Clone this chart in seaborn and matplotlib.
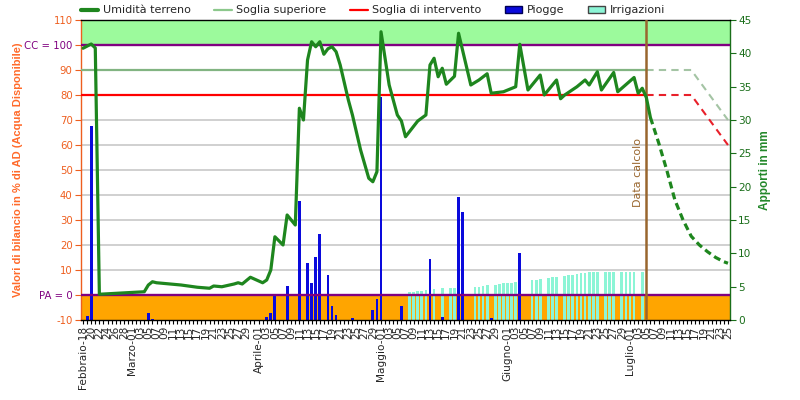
import matplotlib
matplotlib.use("Agg")
import matplotlib.pyplot as plt
import seaborn as sns
import pandas as pd
from matplotlib.patches import Rectangle, Patch
from matplotlib.lines import Line2D
from matplotlib.ticker import FixedLocator, MultipleLocator

# ---------------- data ----------------
start_date = "2024-02-18"
end_date = "2024-07-25"
month_names = {2: "Febbraio", 3: "Marzo", 4: "Aprile", 5: "Maggio", 6: "Giugno", 7: "Luglio"}

# soil moisture (% AD), day index from start_date
moist_day = [0, 2, 3, 4, 15, 16, 17, 18, 24, 28, 31, 32, 34, 37, 38, 39, 41, 44, 45, 46,
             47, 49, 50, 52, 53, 54, 55, 56, 57, 58, 59, 60, 61, 62, 63, 64, 65, 66, 68, 70,
             71, 72, 73, 75, 77, 78, 79, 82, 84, 85, 86, 87, 88, 89, 91, 92, 95, 97, 99, 100,
             103, 106, 107, 109, 112, 113, 116, 117, 118, 121, 123, 124, 126, 127, 130, 131,
             135, 136, 137, 138, 139]
moist_val = [98.7, 100.4, 98.8, 0.3, 1.3, 4.0, 5.3, 4.9, 4.0, 3.1, 2.7, 3.6, 3.3, 4.4, 4.9, 4.4,
             7.1, 4.9, 6.0, 10.0, 23.3, 20.0, 32.0, 28.0, 74.7, 70.0, 94.0, 101.3, 99.3, 101.3,
             96.3, 98.5, 99.3, 97.3, 92.0, 85.0, 78.0, 72.0, 58.0, 46.7, 45.3, 49.3, 105.3, 84.0,
             72.0, 69.6, 63.3, 69.6, 72.0, 92.0, 94.7, 87.3, 90.7, 84.3, 87.5, 104.7, 84.0, 86.0,
             88.5, 80.7, 81.3, 83.3, 100.3, 82.0, 88.0, 80.0, 86.0, 78.5, 80.0, 83.3, 86.0, 84.0,
             89.3, 82.0, 89.0, 81.3, 87.0, 80.7, 82.7, 79.0, 71.0]

# forecast of soil moisture
fc_day = [139, 141, 143, 145, 147, 149, 151, 153, 155, 157, 158]
fc_val = [71.0, 61.0, 50.0, 38.0, 30.0, 23.5, 20.0, 17.3, 15.0, 13.3, 12.7]

calc_day = 138
upper_thr = 90
interv_thr = 80
thr_fc_day = [138, 149, 158]
upper_fc_val = [90, 90, 70]
interv_fc_val = [80, 80, 60]

# rain (mm)
rain_day = [1, 2, 16, 17, 45, 46, 47, 50, 53, 55, 56, 57, 58, 60, 61, 62, 66, 71, 72, 73,
            78, 85, 88, 92, 93, 100, 107]
rain_mm = [0.6, 29.1, 1.0, 0.2, 0.5, 1.0, 3.6, 5.1, 17.9, 8.6, 5.6, 9.4, 12.9, 6.75, 2.1, 0.75,
           0.25, 1.5, 3.15, 33.5, 2.1, 9.15, 0.5, 18.45, 16.25, 0.35, 10.1]

# irrigation (mm)
irr_day = [80, 81, 82, 83, 84, 86, 88, 90, 91, 96, 97, 98, 99, 101, 102, 103, 104, 105, 106,
           110, 111, 112, 114, 115, 116, 118, 119, 120, 121, 122, 123, 124, 125, 126, 128, 129,
           130, 132, 133, 134, 135, 137]
irr_mm = [4.25, 4.25, 4.3, 4.4, 4.45, 4.65, 4.75, 4.8, 4.8, 4.9, 5.0, 5.1, 5.2, 5.3, 5.4, 5.5,
          5.55, 5.6, 5.7, 5.95, 6.0, 6.1, 6.35, 6.4, 6.4, 6.6, 6.7, 6.8, 6.9, 7.0, 7.1, 7.2, 7.2,
          7.2, 7.2, 7.2, 7.2, 7.2, 7.2, 7.2, 7.2, 7.2]

left_ticks = [-10, 0, 10, 20, 30, 40, 50, 60, 70, 80, 90, 100, 110]
left_labels = ["-10", "PA = 0", "10", "20", "30", "40", "50", "60", "70", "80", "90", "CC = 100", "110"]
right_ticks = [0, 5, 10, 15, 20, 25, 30, 35, 40, 45]

# ---------------- style ----------------
sns.set_style("white")
plt.rcParams['font.family'] = ['DejaVu Sans']

C_GREEN = '#1E861E'
C_UPPER = '#82B482'
C_RED = '#FF0000'
C_PURPLE = '#800080'
C_ORANGE_TXT = '#EE5E1E'
C_RIGHT = '#1A6E1A'
C_BROWN = '#99662E'

fig = plt.figure(figsize=(8, 4), dpi=100)
axL = fig.add_axes([81 / 800, 80 / 400, 649 / 800, 300 / 400])
axR = axL.twinx()
axL.set_zorder(axR.get_zorder() + 1)
axL.patch.set_visible(False)
axR.patch.set_facecolor('white')

trL = axL.get_yaxis_transform()
# background bands and grid (in left-axis units), drawn under the bars
axR.add_patch(Rectangle((0, 100), 1, 10, transform=trL, facecolor='#9CFA9C', edgecolor='none', zorder=0))
axR.add_patch(Rectangle((0, -10), 1, 10, transform=trL, facecolor='#FFA500', edgecolor='none', zorder=0))
for v in [10, 20, 30, 40, 50, 60, 70]:
    axR.add_line(Line2D([0, 1], [v, v], transform=trL, color='#C4C4C4', lw=1.1, zorder=0.5))

# bars
sns.barplot(x=irr_day, y=irr_mm, native_scale=True, ax=axR, color='#8CF5D6', saturation=1,
            width=0.68, errorbar=None, zorder=2, edgecolor='none', linewidth=0)
sns.barplot(x=rain_day, y=rain_mm, native_scale=True, ax=axR, color='#0A0ADC', saturation=1,
            width=0.68, errorbar=None, zorder=3, edgecolor='none', linewidth=0)

# threshold and reference lines
axL.hlines(upper_thr, -0.5, calc_day, color=C_UPPER, lw=1.6, zorder=3)
axL.hlines(interv_thr, -0.5, calc_day, color=C_RED, lw=1.6, zorder=3)
sns.lineplot(x=thr_fc_day, y=upper_fc_val, ax=axL, color='#A4C4A4', lw=1.5,
             linestyle=(0, (3.5, 2.5)), zorder=3)
sns.lineplot(x=thr_fc_day, y=interv_fc_val, ax=axL, color='#E8202A', lw=1.5,
             linestyle=(0, (3.5, 2.5)), zorder=3)
axL.axhline(100, color=C_PURPLE, lw=1.7, zorder=3.5)
axL.axhline(0, color=C_PURPLE, lw=1.7, zorder=3.5)

# soil moisture
sns.lineplot(x=moist_day, y=moist_val, ax=axL, color=C_GREEN, lw=2.3, zorder=5)
sns.lineplot(x=fc_day, y=fc_val, ax=axL, color=C_GREEN, lw=2.3, linestyle=(0, (2.2, 1.3)), zorder=5)

# calculation date
axL.axvline(calc_day, color=C_BROWN, lw=1.8, zorder=4)
axL.text(calc_day - 0.8, 49, "Data calcolo", rotation=90, ha='right', va='center',
         color=C_BROWN, fontsize=8, zorder=6)

# ---------------- axes ----------------
dates = pd.date_range(start_date, end_date, freq='D')
tick_pos, tick_lab = [], []
for i, d in enumerate(dates):
    if (d.month == 2 and d.day % 2 == 0) or (d.month > 2 and d.day % 2 == 1 and d.day <= 29):
        tick_pos.append(i)
        if i == 0 or d.day == 1:
            tick_lab.append(f"{month_names[d.month]}-{d.day:02d}")
        else:
            tick_lab.append(f"{d.day:02d}")

axL.set_xlim(-0.5, len(dates) - 0.5)
axL.set_ylim(-10, 110)
axR.set_ylim(0, 45)

axL.xaxis.set_major_locator(FixedLocator(tick_pos))
axL.set_xticklabels(tick_lab, rotation=90, fontsize=7.6)
axL.xaxis.set_minor_locator(MultipleLocator(1))
axL.tick_params(axis='x', which='both', direction='out', length=3, width=0.8, color='black',
                pad=1, bottom=True)
axR.tick_params(axis='x', which='both', bottom=False, labelbottom=False)

axL.set_yticks(left_ticks)
axL.set_yticklabels(left_labels, fontsize=7.3)
for lab, v in zip(axL.get_yticklabels(), left_ticks):
    lab.set_color(C_PURPLE if v in (0, 100) else C_ORANGE_TXT)
axL.tick_params(axis='y', direction='out', length=4, width=0.8, color=C_ORANGE_TXT, pad=2, left=True)

axR.set_yticks(right_ticks)
axR.set_yticklabels([str(v) for v in right_ticks], fontsize=7.6, color=C_RIGHT)
axR.tick_params(axis='y', direction='out', length=4, width=0.8, color=C_RIGHT, pad=2, right=True)

axL.set_xlabel("")
axR.set_xlabel("")
axL.set_ylabel("Valori di bilancio in % di AD (Acqua Disponibile)", color='#FF6A2A',
               fontweight='bold', fontsize=8, family='Liberation Sans')
axL.yaxis.set_label_coords(-0.089, 0.5)
axR.set_ylabel("Apporti in mm", color='#23882A', fontweight='bold', fontsize=8.5,
               family='Liberation Sans')
axR.yaxis.set_label_coords(1.045, 0.5)

for s in ['top', 'bottom']:
    axL.spines[s].set_color('black')
    axL.spines[s].set_linewidth(1)
axL.spines['left'].set_color(C_ORANGE_TXT)
axL.spines['left'].set_linewidth(1)
axL.spines['right'].set_visible(False)
for s in ['left', 'top', 'bottom']:
    axR.spines[s].set_visible(False)
axR.spines['right'].set_color(C_RIGHT)
axR.spines['right'].set_linewidth(1)
axL.grid(False)
axR.grid(False)

# legend
handles = [Line2D([], [], color=C_GREEN, lw=3),
           Line2D([], [], color='#8CC88C', lw=1.6),
           Line2D([], [], color=C_RED, lw=1.6),
           Patch(facecolor='#0A0ADC', edgecolor='#000055'),
           Patch(facecolor='#8CF5D6', edgecolor='#444444')]
labels = ["Umidità terreno", "Soglia superiore", "Soglia di intervento", "Piogge", "Irrigazioni"]
fig.legend(handles, labels, loc='upper left', bbox_to_anchor=(74 / 800, 1.003), ncol=5,
           frameon=False, prop={'family': 'DejaVu Sans', 'size': 8}, handlelength=1.6,
           handleheight=0.7, handletextpad=0.4, columnspacing=2.1, borderaxespad=0.2)

fig.savefig("out.png", dpi=100)
